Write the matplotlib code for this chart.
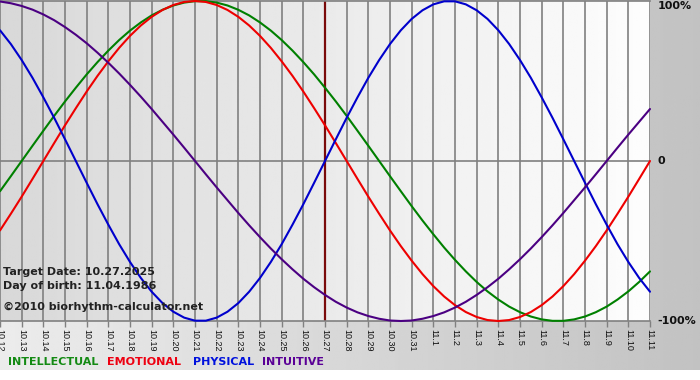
import numpy as np
import matplotlib
matplotlib.use('Agg')
import matplotlib.pyplot as plt

# day labels on the x axis (month.day)
days = ['10.12', '10.13', '10.14', '10.15', '10.16', '10.17', '10.18', '10.19',
        '10.20', '10.21', '10.22', '10.23', '10.24', '10.25', '10.26', '10.27',
        '10.28', '10.29', '10.30', '10.31', '11.1', '11.2', '11.3', '11.4',
        '11.5', '11.6', '11.7', '11.8', '11.9', '11.10', '11.11']
target_day = '10.27'

# rhythm values read every half day, -1 .. 1 (61 points, 10.12 -> 11.11)
intellectual = [-0.189, -0.095,
                0.000, 0.095, 0.189, 0.282, 0.372, 0.458, 0.541, 0.618, 0.690,
                0.756, 0.815, 0.866, 0.910, 0.945, 0.972, 0.990, 0.999,
                0.999, 0.990, 0.972, 0.945, 0.910, 0.866, 0.815, 0.756, 0.690,
                0.618, 0.541, 0.458, 0.372, 0.282, 0.189, 0.095, 0.000,
                -0.095, -0.189, -0.282, -0.372, -0.458, -0.541, -0.618, -0.690,
                -0.756, -0.815, -0.866, -0.910, -0.945, -0.972, -0.990, -0.999,
                -0.999,
                -0.990, -0.972, -0.945, -0.910, -0.866, -0.815, -0.756, -0.690]
emotional = [-0.434, -0.330, -0.223, -0.112,
             0.000, 0.112, 0.223, 0.330, 0.434, 0.532, 0.623, 0.707, 0.782,
             0.847, 0.901, 0.944, 0.975, 0.994, 1.000,
             0.994, 0.975, 0.944, 0.901, 0.847, 0.782, 0.707, 0.623, 0.532,
             0.434, 0.330, 0.223, 0.112, 0.000,
             -0.112, -0.223, -0.330, -0.434, -0.532, -0.623, -0.707, -0.782,
             -0.847, -0.901, -0.944, -0.975, -0.994, -1.000,
             -0.994, -0.975, -0.944, -0.901, -0.847, -0.782, -0.707, -0.623,
             -0.532, -0.434, -0.330, -0.223, -0.112, 0.000]
physical = [0.817, 0.731, 0.631, 0.520, 0.398, 0.270, 0.136, 0.000, -0.136, -0.270,
            -0.398, -0.520, -0.631, -0.731, -0.817, -0.888, -0.942, -0.979, -0.998, -0.998,
            -0.979, -0.942, -0.888, -0.817, -0.731, -0.631, -0.520, -0.398, -0.270, -0.136,
            0.000, 0.136, 0.270, 0.398, 0.520, 0.631, 0.731, 0.817, 0.888, 0.942,
            0.979, 0.998, 0.998, 0.979, 0.942, 0.888, 0.817, 0.731, 0.631, 0.520,
            0.398, 0.270, 0.136, 0.000, -0.136, -0.270, -0.398, -0.520, -0.631, -0.731,
            -0.817]
intuitive = [0.997, 0.986, 0.969, 0.946, 0.916, 0.880, 0.837, 0.789, 0.736, 0.677,
             0.614, 0.547, 0.476, 0.402, 0.325, 0.245, 0.165, 0.083, 0.000, -0.083,
             -0.165, -0.245, -0.325, -0.402, -0.476, -0.547, -0.614, -0.677, -0.736, -0.789,
             -0.837, -0.880, -0.916, -0.946, -0.969, -0.986, -0.997, -1.000, -0.997, -0.986,
             -0.969, -0.946, -0.916, -0.880, -0.837, -0.789, -0.736, -0.677, -0.614, -0.547,
             -0.476, -0.402, -0.325, -0.245, -0.165, -0.083, 0.000, 0.083, 0.165, 0.245,
             0.325]

series = [('INTELLECTUAL', intellectual, '#008000', '#138a13'),
          ('EMOTIONAL', emotional, '#ee0000', '#ee0011'),
          ('PHYSICAL', physical, '#0000cc', '#0011dd'),
          ('INTUITIVE', intuitive, '#4b0082', '#5a0096')]

W, H = 700, 380
fig = plt.figure(figsize=(W / 100, H / 100), dpi=100, facecolor='white')

# background gradient (light grey -> darker grey), white strip at the bottom
bg = fig.add_axes([0, 0, 1, 1], zorder=0)
bg.axis('off')
g = np.linspace(236, 194, 256) / 255.0
bg.imshow(np.tile(g, (2, 1)), extent=[0, 1, 10 / H, 1], aspect='auto',
          cmap='gray', vmin=0, vmax=1)
bg.set_xlim(0, 1)
bg.set_ylim(0, 1)

# plot area
ax = fig.add_axes([0, 59 / H, 650 / W, 320 / H], zorder=1)
x = np.arange(len(days))
xh = np.arange(len(physical)) / 2.0   # half-day positions
g2 = np.linspace(216, 253, 256) / 255.0
ax.imshow(np.tile(g2, (2, 1)), extent=[0, len(days) - 1, -1, 1], aspect='auto',
          cmap='gray', vmin=0, vmax=1, zorder=0)
ax.set_xlim(0, len(days) - 1)
ax.set_ylim(-1, 1)

for xi in x:
    ax.axvline(xi, color='#808080', lw=1.2, zorder=1)
ax.axhline(0, color='#808080', lw=1.2, zorder=1)
ax.axvline(days.index(target_day), color='#7a0a0a', lw=1.6, zorder=2)

for name, vals, col, _ in series:
    ax.plot(xh, vals, color=col, lw=1.5, zorder=3, clip_on=False,
            solid_capstyle='round', solid_joinstyle='round')

for s in ['left', 'right']:
    ax.spines[s].set_visible(False)
for s in ['top', 'bottom']:
    ax.spines[s].set_color('#808080')
    ax.spines[s].set_linewidth(1.2)

ax.set_yticks([])
ax.set_xticks(x)
ax.set_xticklabels(days, rotation=270, fontsize=6.5, family='Liberation Sans',
                   color='#111111')
ax.tick_params(axis='x', length=4, width=1, color='#808080', pad=2)

# right side percent labels
yt = ax.get_yaxis_transform()
lab = dict(fontsize=8, fontweight='bold', color='#111111', transform=yt,
           ha='left', family='DejaVu Sans')
ax.text(1.012, 1.0, '100%', va='top', **lab)
ax.text(1.012, 0.0, '0', va='center', **lab)
ax.text(1.012, -1.0, '-100%', va='center', **lab)

# info block
info = dict(fontsize=8, fontweight='bold', color='#222222', ha='left',
            va='center', family='DejaVu Sans')
fig.text(3 / W, 1 - 272 / H, 'Target Date: 10.27.2025', **info)
fig.text(3 / W, 1 - 286 / H, 'Day of birth: 11.04.1986', **info)
fig.text(3 / W, 1 - 307 / H, '©2010 biorhythm-calculator.net', **info)

# legend words
leg_x = [8, 107, 193, 262]
for (name, _, _, lc), lx in zip(series, leg_x):
    fig.text(lx / W, 1 - 362 / H, name, color=lc, fontsize=8, fontweight='bold',
             ha='left', va='center', family='DejaVu Sans')

fig.savefig('out.png', dpi=100, facecolor='white')
